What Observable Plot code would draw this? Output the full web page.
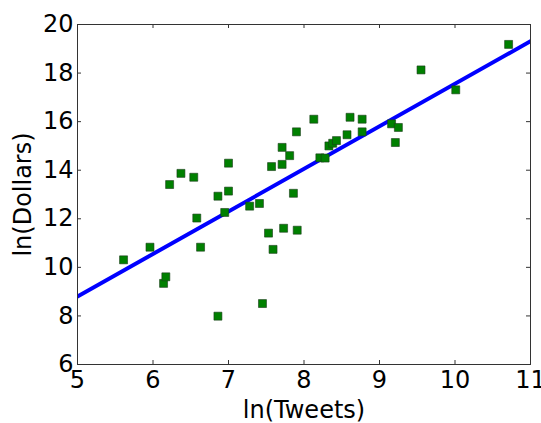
<!DOCTYPE html>
<html>
<head>
<meta charset="utf-8">
<script src="https://cdn.jsdelivr.net/npm/d3@7"></script>
<script src="https://cdn.jsdelivr.net/npm/@observablehq/plot@0.6"></script>
<style>
  html, body { margin: 0; padding: 0; background: #fff; }
  #chart svg { display: block; }
</style>
</head>
<body>
<div id="chart"></div>
<script>
const tweets = [5.61, 5.96, 6.14, 6.17, 6.22, 6.37, 6.54, 6.58, 6.63, 6.86, 6.86, 6.95, 7.0, 7.0, 7.28, 7.41, 7.45, 7.53, 7.57, 7.59, 7.71, 7.71, 7.73, 7.81, 7.86, 7.90, 7.91, 8.13, 8.21, 8.28, 8.33, 8.38, 8.43, 8.57, 8.61, 8.77, 8.77, 9.16, 9.21, 9.25, 9.55, 10.01, 10.71];
const dollars = [10.31, 10.83, 9.34, 9.61, 13.41, 13.87, 13.71, 12.03, 10.83, 12.93, 7.99, 12.26, 13.14, 14.29, 12.52, 12.63, 8.51, 11.41, 14.15, 10.74, 14.94, 14.24, 11.61, 14.6, 13.05, 15.58, 11.53, 16.10, 14.51, 14.50, 15.0, 15.11, 15.22, 15.46, 16.18, 16.10, 15.58, 15.91, 15.14, 15.76, 18.13, 17.31, 19.18];
const fitX = [5, 11];
const fitY = [8.80, 19.31];
const xTicks = [5, 6, 7, 8, 9, 10, 11];
const yTicks = [6, 8, 10, 12, 14, 16, 18, 20];

const points = tweets.map((t, i) => ({x: t, y: dollars[i]}));
const fit = fitX.map((x, i) => ({x, y: fitY[i]}));

const W = 541, H = 423;
const mL = 77, mR = 11, mT = 24, mB = 59;
const fw = W - mL - mR, fh = H - mT - mB;
const tl = 4;

const chart = Plot.plot({
  width: W,
  height: H,
  marginLeft: mL,
  marginRight: mR,
  marginTop: mT,
  marginBottom: mB,
  style: {fontFamily: "DejaVu Sans", color: "#000", background: "#fff", overflow: "visible"},
  x: {domain: [5, 11]},
  y: {domain: [6, 20]},
  marks: [
    Plot.line(fit, {x: "x", y: "y", stroke: "#0000ff", strokeWidth: 4, clip: true}),
    Plot.dot(points, {x: "x", y: "y", symbol: "square", r: 4.5, fill: "#008000", stroke: "#1a3a1a", strokeWidth: 0.6}),
    Plot.tickX(xTicks, {x: d => d, insetTop: fh - tl, stroke: "#333"}),
    Plot.tickX(xTicks, {x: d => d, insetBottom: fh - tl, stroke: "#333"}),
    Plot.tickY(yTicks, {y: d => d, insetRight: fw - tl, stroke: "#333"}),
    Plot.tickY(yTicks, {y: d => d, insetLeft: fw - tl, stroke: "#333"}),
    Plot.frame({stroke: "#333", strokeWidth: 1}),
    Plot.axisX({ticks: xTicks, tickFormat: d3.format("d"), tickSize: 0, tickPadding: 6, fontSize: 24, label: "ln(Tweets)", labelAnchor: "center", labelArrow: "none", labelOffset: 53}),
    Plot.axisY({ticks: yTicks, tickFormat: d3.format("d"), tickSize: 0, tickPadding: 4, fontSize: 24, label: "ln(Dollars)", labelAnchor: "center", labelArrow: "none", labelOffset: 64})
  ]
});
document.getElementById("chart").appendChild(chart);
</script>
</body>
</html>
